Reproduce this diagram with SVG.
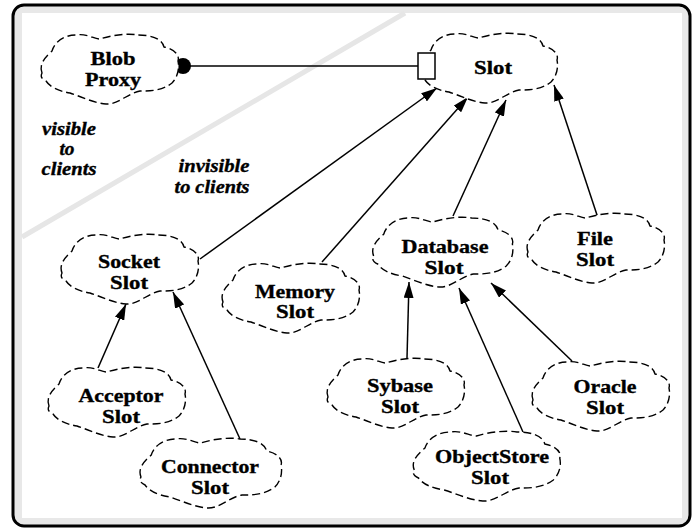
<svg xmlns="http://www.w3.org/2000/svg" xmlns:xlink="http://www.w3.org/1999/xlink" width="695" height="531" viewBox="0 0 695 531">
<style>
.cl{fill:#fff;stroke:#000;stroke-width:1.4;stroke-dasharray:8 4;vector-effect:non-scaling-stroke}
.t{font-family:"Liberation Serif","Times New Roman",serif;font-weight:bold;font-size:19px;text-anchor:middle;fill:#000;stroke:#000;stroke-width:0.35}
.it{font-style:italic;font-size:18px}
.ar{stroke:#000;stroke-width:1.5;fill:none;marker-end:url(#ah)}
</style>
<defs>
<marker id="ah" markerUnits="userSpaceOnUse" viewBox="0 0 16 10" refX="16" refY="5" markerWidth="16" markerHeight="10" orient="auto">
<path d="M0,0 L16,5 L0,10 z" fill="#000"/>
</marker>
<path id="cloud" class="cl" d="M-68,4 C-72,-6 -62,-14 -58,-18 C-55,-28 -45,-34 -34,-34 C-24,-36 -16,-30 -10,-30 C2,-34 18,-36 28,-34 C42,-34 52,-30 54,-22 C64,-20 70,-14 68,-8 C70,2 66,10 62,14 C52,22 40,22 30,22 C18,24 8,36 -4,35 C-16,34 -28,28 -40,24 C-52,22 -60,18 -64,12 C-68,10 -70,8 -68,4 Z"/>
</defs>
<rect x="13" y="5" width="677" height="521" rx="11" fill="#e8e8e8" stroke="#000" stroke-width="3"/>
<rect x="22" y="13" width="660" height="505" fill="#fff"/>
<line x1="405" y1="13" x2="22" y2="237" stroke="#e6e6e6" stroke-width="5"/>
<text class="t it" x="69" y="135" textLength="54" lengthAdjust="spacingAndGlyphs">visible</text>
<text class="t it" x="67" y="155" textLength="15" lengthAdjust="spacingAndGlyphs">to</text>
<text class="t it" x="69" y="175" textLength="55" lengthAdjust="spacingAndGlyphs">clients</text>
<text class="t it" x="214" y="172" textLength="71" lengthAdjust="spacingAndGlyphs">invisible</text>
<text class="t it" x="212" y="193" textLength="75" lengthAdjust="spacingAndGlyphs">to clients</text>
<g id="connectors">
<line x1="183" y1="66" x2="418" y2="66" stroke="#000" stroke-width="1.5"/>
<circle cx="183" cy="66" r="8" fill="#000"/>
<line class="ar" x1="200" y1="259" x2="437" y2="88"/>
<line class="ar" x1="322" y1="262" x2="468" y2="97"/>
<line class="ar" x1="453" y1="216" x2="506" y2="100"/>
<line class="ar" x1="598" y1="218" x2="554" y2="85"/>
<line class="ar" x1="98" y1="368" x2="126" y2="304"/>
<line class="ar" x1="240" y1="439" x2="173" y2="292"/>
<line class="ar" x1="407" y1="358" x2="409" y2="282"/>
<line class="ar" x1="523" y1="432" x2="459" y2="288"/>
<line class="ar" x1="572" y1="361" x2="491" y2="283"/>
</g>
<g id="blobproxy"><use href="#cloud" x="110" y="69"/><text class="t" x="113" y="65" textLength="45" lengthAdjust="spacingAndGlyphs">Blob</text><text class="t" x="113" y="86" textLength="56" lengthAdjust="spacingAndGlyphs">Proxy</text></g>
<g id="slot"><use href="#cloud" x="489" y="68"/><rect x="418" y="53" width="17" height="26" fill="#fff" stroke="#000" stroke-width="1.5"/><text class="t" x="493" y="74" textLength="38" lengthAdjust="spacingAndGlyphs">Slot</text></g>
<g id="socketslot"><use href="#cloud" x="130" y="269"/><text class="t" x="129" y="268" textLength="62" lengthAdjust="spacingAndGlyphs">Socket</text><text class="t" x="129" y="289" textLength="38" lengthAdjust="spacingAndGlyphs">Slot</text></g>
<g id="memoryslot"><use href="#cloud" x="291" y="298"/><text class="t" x="295" y="298" textLength="80" lengthAdjust="spacingAndGlyphs">Memory</text><text class="t" x="295" y="318" textLength="38" lengthAdjust="spacingAndGlyphs">Slot</text></g>
<g id="databaseslot"><use href="#cloud" transform="translate(443,252) scale(1.02,1)"/><text class="t" x="445" y="253" textLength="87" lengthAdjust="spacingAndGlyphs">Database</text><text class="t" x="444" y="274" textLength="39" lengthAdjust="spacingAndGlyphs">Slot</text></g>
<g id="fileslot"><use href="#cloud" x="596" y="248"/><text class="t" x="595" y="245" textLength="36" lengthAdjust="spacingAndGlyphs">File</text><text class="t" x="595" y="266" textLength="38" lengthAdjust="spacingAndGlyphs">Slot</text></g>
<g id="acceptorslot"><use href="#cloud" x="117" y="402"/><text class="t" x="121" y="402" textLength="85" lengthAdjust="spacingAndGlyphs">Acceptor</text><text class="t" x="121" y="423" textLength="38" lengthAdjust="spacingAndGlyphs">Slot</text></g>
<g id="connectorslot"><use href="#cloud" transform="translate(211,473) scale(1.03,1)"/><text class="t" x="210" y="473" textLength="98" lengthAdjust="spacingAndGlyphs">Connector</text><text class="t" x="210" y="494" textLength="38" lengthAdjust="spacingAndGlyphs">Slot</text></g>
<g id="sybaseslot"><use href="#cloud" x="396" y="393"/><text class="t" x="400" y="392" textLength="66" lengthAdjust="spacingAndGlyphs">Sybase</text><text class="t" x="400" y="413" textLength="38" lengthAdjust="spacingAndGlyphs">Slot</text></g>
<g id="objectstoreslot"><use href="#cloud" transform="translate(487,466) scale(1.07,1)"/><text class="t" x="492" y="463" textLength="114" lengthAdjust="spacingAndGlyphs">ObjectStore</text><text class="t" x="490" y="484" textLength="38" lengthAdjust="spacingAndGlyphs">Slot</text></g>
<g id="oracleslot"><use href="#cloud" x="601" y="396"/><text class="t" x="605" y="393" textLength="63" lengthAdjust="spacingAndGlyphs">Oracle</text><text class="t" x="605" y="414" textLength="38" lengthAdjust="spacingAndGlyphs">Slot</text></g>
</svg>
